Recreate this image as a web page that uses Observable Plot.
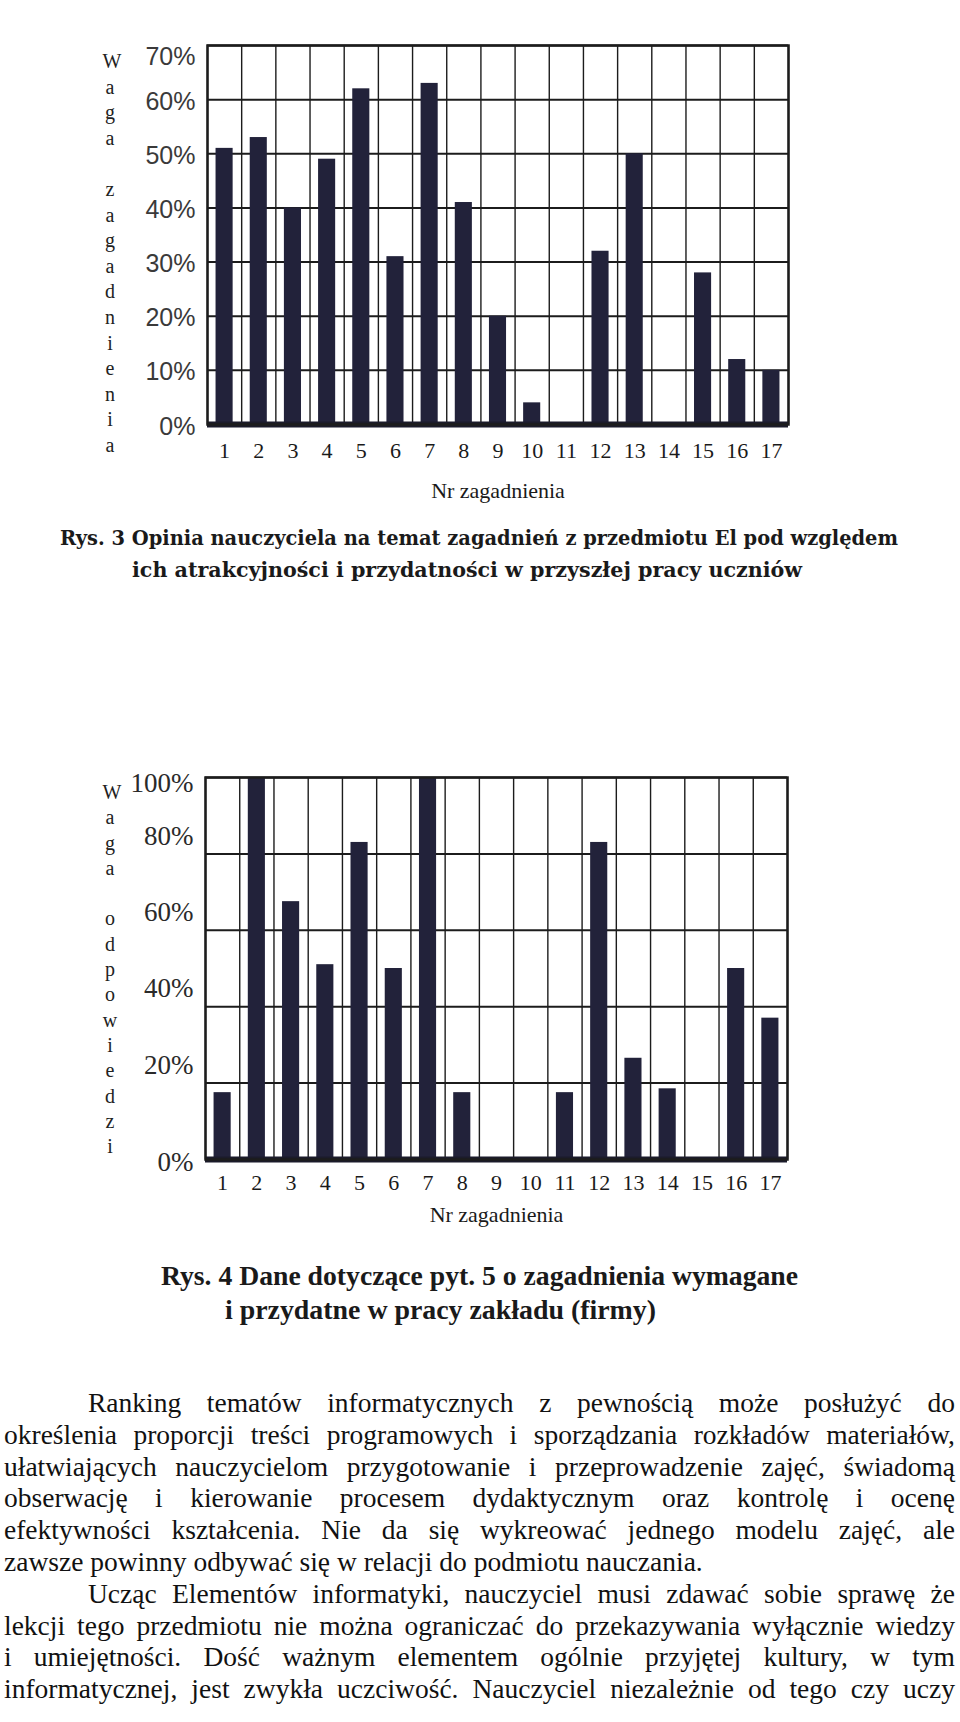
<!DOCTYPE html>
<html><head><meta charset="utf-8">
<script src="https://cdn.jsdelivr.net/npm/d3@7"></script>
<script src="https://cdn.jsdelivr.net/npm/@observablehq/plot@0.6"></script>
<style>
html,body{margin:0;padding:0;background:#fff;}
#page{position:relative;width:960px;height:1722px;overflow:hidden;background:#fff;}
.chart{position:absolute;left:0;}
.vlab{position:absolute;width:30px;font-family:"Liberation Serif","Times New Roman",serif;font-size:20px;text-align:center;color:#222;}
#para{position:absolute;left:4px;top:1387px;width:951px;font-family:"Liberation Serif","Times New Roman",serif;font-size:27.5px;line-height:31.8px;color:#111;}
#para div{white-space:nowrap;text-align:justify;text-align-last:justify;}
#para div.last{text-align-last:left;}
#para div.ind{padding-left:84px;}
#captions{position:absolute;left:0;top:0;pointer-events:none;}
</style></head>
<body><div id="page">
<div id="c1" class="chart" style="top:0"></div>
<div id="c2" class="chart" style="top:700px"></div>
<div id="v1" class="vlab" style="left:95px;top:49px"></div>
<div id="v2" class="vlab" style="left:95px;top:780px"></div>
<svg id="captions" width="960" height="1722">
  <text x="60" y="545" textLength="838" lengthAdjust="spacingAndGlyphs" font-family="DejaVu Serif" font-weight="bold" font-size="20" fill="#1a1a1a">Rys. 3 Opinia nauczyciela na temat zagadnień z przedmiotu El pod względem</text>
  <text x="132" y="577" textLength="670" lengthAdjust="spacingAndGlyphs" font-family="DejaVu Serif" font-weight="bold" font-size="20" fill="#1a1a1a">ich atrakcyjności i przydatności w przyszłej pracy uczniów</text>
  <text x="161" y="1285" textLength="637" lengthAdjust="spacingAndGlyphs" font-family="Liberation Serif" font-weight="bold" font-size="27" fill="#1a1a1a">Rys. 4 Dane dotyczące pyt. 5 o zagadnienia wymagane</text>
  <text x="225" y="1319" textLength="431" lengthAdjust="spacingAndGlyphs" font-family="Liberation Serif" font-weight="bold" font-size="27" fill="#1a1a1a">i przydatne w pracy zakładu (firmy)</text>
</svg>
<div id="para">
<div class="ind">Ranking tematów informatycznych z pewnością może posłużyć do</div>
<div>określenia proporcji treści programowych i sporządzania rozkładów materiałów,</div>
<div>ułatwiających nauczycielom przygotowanie i przeprowadzenie zajęć, świadomą</div>
<div>obserwację i kierowanie procesem dydaktycznym oraz kontrolę i ocenę</div>
<div>efektywności kształcenia. Nie da się wykreować jednego modelu zajęć, ale</div>
<div class="last">zawsze powinny odbywać się w relacji do podmiotu nauczania.</div>
<div class="ind">Ucząc Elementów informatyki, nauczyciel musi zdawać sobie sprawę że</div>
<div>lekcji tego przedmiotu nie można ograniczać do przekazywania wyłącznie wiedzy</div>
<div>i umiejętności. Dość ważnym elementem ogólnie przyjętej kultury, w tym</div>
<div>informatycznej, jest zwykła uczciwość. Nauczyciel niezależnie od tego czy uczy</div>
</div>
</div>
<script>
// ---- data ----
const issueNr = [1, 2, 3, 4, 5, 6, 7, 8, 9, 10, 11, 12, 13, 14, 15, 16, 17];
const teacherOpinion = [51, 53, 40, 49, 62, 31, 63, 41, 20, 4, 0, 32, 50, 0, 28, 12, 10];
const workplaceNeed = [17.5, 100, 67.5, 51, 83, 50, 100, 17.5, 0, 0, 17.5, 83, 26.5, 18.5, 0, 50, 37];
const yTicks1 = [0, 10, 20, 30, 40, 50, 60, 70];
const yTicks2 = [0, 20, 40, 60, 80, 100];
const xTitle = "Nr zagadnienia";
const yTitle1 = "Waga zagadnienia";
const yTitle2 = "Waga odpowiedzi";

const barColor = "#22223a";
const lineColor = "#1c1c1c";
const serif = "Liberation Serif, Times New Roman, serif";
const sans = "Liberation Sans, Arial, sans-serif";

function makeChart(o) {
  const data = issueNr.map((nr, i) => ({nr, v: o.values[i]}));
  const bounds = issueNr.map(n => n - 0.5).concat([issueNr[issueNr.length - 1] + 0.5]);
  const yAxes = o.labelGroups.map(g => Plot.axisY(g.ticks, {
    tickSize: 0, tickPadding: 12, tickFormat: d => d + "%",
    fontSize: o.yFontSize, fontFamily: o.yFont, fill: o.yFill, dy: g.dy, label: null
  }));
  return Plot.plot({
    width: 960, height: o.height,
    marginLeft: o.ml, marginRight: o.mr, marginTop: o.mt, marginBottom: o.mb,
    style: {background: "transparent", overflow: "visible"},
    x: {domain: [bounds[0], bounds[bounds.length - 1]], label: xTitle, labelArrow: "none"},
    y: {domain: [0, o.ticks[o.ticks.length - 1]]},
    marks: [
      Plot.ruleX(bounds, {stroke: lineColor, strokeWidth: 1.4}),
      Plot.ruleY(o.ticks, {stroke: lineColor, strokeWidth: 2}),
      Plot.rectY(data, {x1: d => d.nr - 0.25, x2: d => d.nr + 0.25, y: "v", fill: barColor}),
      Plot.ruleY([0], {stroke: "#1b1b2a", strokeWidth: 6}),
      Plot.frame({stroke: lineColor, strokeWidth: 2.5}),
      Plot.axisX(issueNr, {
        tickSize: 0, tickPadding: o.xPad, fontSize: 22, fontFamily: serif, fill: "#1a1a1a",
        tickFormat: d => String(d), label: xTitle, labelArrow: "none", labelAnchor: "center", labelOffset: o.labelOffset
      }),
      ...yAxes
    ]
  });
}

document.getElementById("c1").append(makeChart({
  values: teacherOpinion, ticks: yTicks1, height: 520,
  ml: 207, mr: 172, mt: 45, mb: 96, xPad: 18, labelOffset: 73,
  yFont: sans, yFontSize: 25, yFill: "#3a3a3a",
  labelGroups: [{ticks: yTicks1.slice(0, -1), dy: 2}, {ticks: yTicks1.slice(-1), dy: 11}]
}));

document.getElementById("c2").append(makeChart({
  values: workplaceNeed, ticks: yTicks2, height: 530,
  ml: 205, mr: 173, mt: 77, mb: 71, xPad: 15, labelOffset: 62,
  yFont: serif, yFontSize: 27, yFill: "#2a2a2a",
  labelGroups: [{ticks: yTicks2.slice(1, -1), dy: -18}, {ticks: yTicks2.slice(-1), dy: 6}, {ticks: yTicks2.slice(0, 1), dy: 3}]
}));

function vertical(id, title, step) {
  const el = document.getElementById(id);
  for (const ch of title) {
    const d = document.createElement("div");
    d.style.height = step + "px";
    d.style.lineHeight = step + "px";
    d.textContent = ch === " " ? "\u00a0" : ch;
    if (ch === "W") d.style.marginLeft = "4px";
    el.append(d);
  }
}
vertical("v1", yTitle1, 25.6);
vertical("v2", yTitle2, 25.3);
</script>
</body></html>
